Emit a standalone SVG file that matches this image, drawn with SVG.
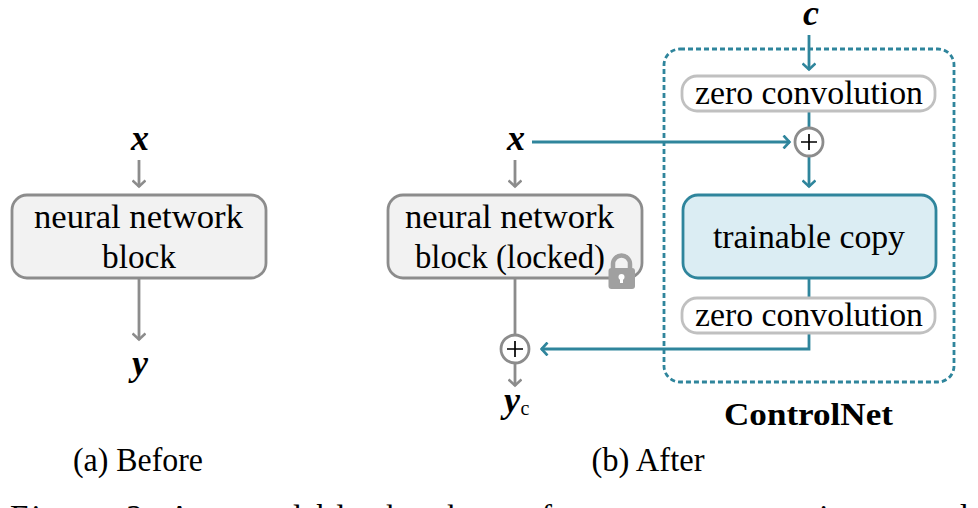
<svg xmlns="http://www.w3.org/2000/svg" width="978" height="508" viewBox="0 0 978 508">
<defs>
<marker id="ag" viewBox="0 0 14 14" refX="12.500" refY="7" markerWidth="14" markerHeight="14" markerUnits="userSpaceOnUse" orient="auto"><path d="M6 .5L12 7L6 13.500" fill="none" stroke="#8c8c8c" stroke-width="2.600"/></marker>
<marker id="at" viewBox="0 0 14 14" refX="12.500" refY="7" markerWidth="14" markerHeight="14" markerUnits="userSpaceOnUse" orient="auto"><path d="M6 .5L12 7L6 13.500" fill="none" stroke="#2f859c" stroke-width="2.600"/></marker>
</defs>
<style>
text{font-family:"Liberation Serif","DejaVu Serif",serif;fill:#000;text-anchor:middle}
.l{font-size:33px}
.v{font-size:36px;font-weight:bold;font-style:italic}
.g{fill:none;stroke:#8c8c8c;stroke-width:2.800}
.t{fill:none;stroke:#2f859c;stroke-width:2.800}
.block{fill:#f2f2f2;stroke:#8c8c8c;stroke-width:2.800}
.zero{fill:#fff;stroke:#c0c0c0;stroke-width:2.800}
.plus{fill:#fff;stroke:#8c8c8c;stroke-width:2.800}
.pm{fill:none;stroke:#000;stroke-width:1.700}
</style>
<rect width="978" height="508" fill="#fff"/>
<g id="connectors">
<path class="g" d="M139 160V187" marker-end="url(#ag)"/>
<path class="g" d="M139 279V340" marker-end="url(#ag)"/>
<path class="g" d="M515 160V187" marker-end="url(#ag)"/>
<path class="g" d="M515 279V335"/>
<path class="g" d="M515 363V386" marker-end="url(#ag)"/>
<path class="t" d="M532 142H790" marker-end="url(#at)"/>
<path class="t" d="M809 35V70" marker-end="url(#at)"/>
<path class="t" d="M809 112V128"/>
<path class="t" d="M809 157V187" marker-end="url(#at)"/>
<path class="t" d="M809 278V297"/>
<path class="t" d="M809 334V349H541" marker-end="url(#at)"/>
</g>
<g id="controlnet"><rect x="664" y="49" width="290" height="333" rx="16" fill="none" stroke="#2f859c" stroke-width="2.800" stroke-dasharray="5 3"/><text x="808.500" y="425" textLength="169" lengthAdjust="spacingAndGlyphs" style="font-size:32px;font-weight:bold">ControlNet</text></g>
<g id="x-a"><text class="v" x="140" y="150">x</text></g>
<g id="block-a"><rect class="block" x="12" y="195" width="254" height="83" rx="15"/><text class="l" x="138.500" y="227.500" textLength="209" lengthAdjust="spacingAndGlyphs">neural network</text><text class="l" x="139" y="267.500" textLength="74" lengthAdjust="spacingAndGlyphs">block</text></g>
<g id="y-a"><text class="v" x="140" y="375">y</text></g>
<g id="x-b"><text class="v" x="516" y="150">x</text></g>
<g id="block-b"><rect class="block" x="388" y="195" width="254" height="83" rx="15"/><text class="l" x="509.500" y="227.500" textLength="209" lengthAdjust="spacingAndGlyphs">neural network</text><text class="l" x="510" y="267.500" textLength="190" lengthAdjust="spacingAndGlyphs">block (locked)</text></g>
<g id="lock"><path d="M613 269V264a8.500 8.500 0 0 1 17 0V269" fill="none" stroke="#a0a0a0" stroke-width="4.500"/><rect x="608.500" y="268" width="26.500" height="21" rx="3" fill="#a0a0a0"/><circle cx="621.500" cy="277" r="3" fill="#fff"/><rect x="620" y="277" width="3" height="6" fill="#fff"/></g>
<g id="plus-b"><circle class="plus" cx="515" cy="349" r="14"/><path class="pm" d="M507 349H523M515 341V357"/></g>
<g id="yc"><text class="v" x="512" y="412">y</text><text x="525" y="415" style="font-size:20px">c</text></g>
<g id="c"><text class="v" x="811" y="25">c</text></g>
<g id="zero-1"><rect class="zero" x="682" y="76" width="253" height="35" rx="15"/><text class="l" x="809" y="103.500" textLength="228" lengthAdjust="spacingAndGlyphs">zero convolution</text></g>
<g id="plus-t"><circle class="plus" cx="809" cy="142" r="14"/><path class="pm" d="M801 142H817M809 134V150"/></g>
<g id="trainable"><rect x="683" y="195" width="253" height="83" rx="15" fill="#dbedf3" stroke="#2f859c" stroke-width="2.800"/><text class="l" x="809" y="247.500" textLength="192" lengthAdjust="spacingAndGlyphs">trainable copy</text></g>
<g id="zero-2"><rect class="zero" x="682" y="298" width="253" height="35" rx="15"/><text class="l" x="809" y="325.500" textLength="228" lengthAdjust="spacingAndGlyphs">zero convolution</text></g>
<g id="cap-a"><text class="l" x="138" y="471" textLength="130" lengthAdjust="spacingAndGlyphs">(a) Before</text></g>
<g id="cap-b"><text class="l" x="648" y="471" textLength="113" lengthAdjust="spacingAndGlyphs">(b) After</text></g>
<g id="caption"><text class="l" x="489" y="528" textLength="958" lengthAdjust="spacing">Figure 2: A neural block takes a feature map x as input and</text></g>
</svg>
